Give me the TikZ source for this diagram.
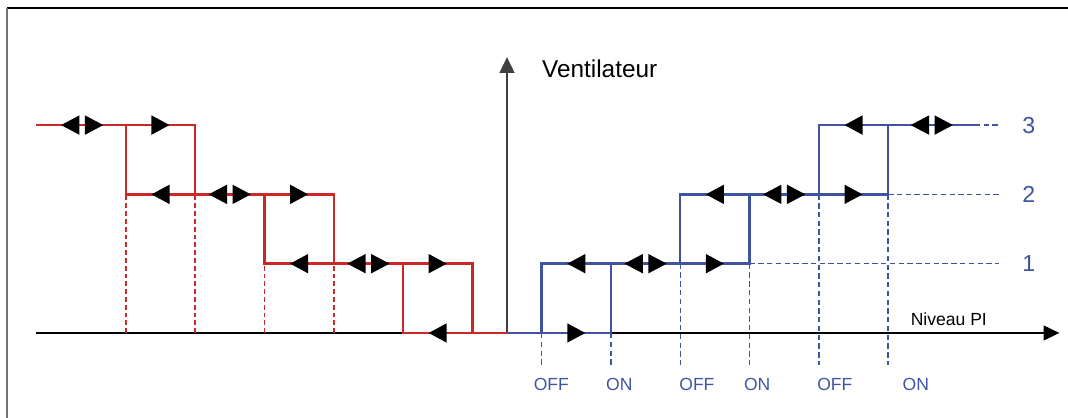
\documentclass[tikz,border=0pt]{standalone}
\usepackage{fontspec}
\setmainfont{Liberation Sans}
\usetikzlibrary{arrows.meta}

\definecolor{rougecourbe}{RGB}{205,40,40}
\definecolor{bleucourbe}{RGB}{62,84,162}

\tikzset{
  courbeR/.style={draw=rougecourbe, line width=1pt},
  courbeB/.style={draw=bleucourbe, line width=1pt},
  tiretR/.style={draw=rougecourbe, line width=0.7pt, dash pattern=on 2pt off 1.2pt},
  tiretB/.style={draw=bleucourbe, line width=0.6pt, dash pattern=on 2.2pt off 1.4pt},
  axe/.style={line width=0.45pt, -{Triangle[length=6.5pt,width=6.2pt]}},
  etiquette/.style={text=bleucourbe, inner sep=0pt, font=\fontsize{7.2}{8}\selectfont},
  vitesse/.style={text=bleucourbe, inner sep=0pt, font=\fontsize{9.5}{11}\selectfont}
}

\begin{document}
\begin{tikzpicture}[x=1cm, y=1cm]

\useasboundingbox (-7.316,-1.2266) rectangle (8.095,4.805);

% Cadre
\draw[line width=0.7pt] (-7.21,4.69) -- (8.095,4.69);
\draw[line width=0.8pt, black!55] (-7.21,4.69) -- (-7.21,-1.2266);

% Fleches
\def\flecheD#1#2{\fill (#1-0.13,#2+0.14) -- (#1+0.13,#2) -- (#1-0.13,#2-0.14) -- cycle;}
\def\flecheG#1#2{\fill (#1+0.13,#2+0.14) -- (#1-0.13,#2) -- (#1+0.13,#2-0.14) -- cycle;}
\def\flecheDouble#1#2{
  \fill (#1-0.04,#2+0.14) -- (#1-0.305,#2) -- (#1-0.04,#2-0.14) -- cycle;
  \fill (#1+0.04,#2+0.14) -- (#1+0.305,#2) -- (#1+0.04,#2-0.14) -- cycle;
}

% Axes
\draw[axe] (-6.8,0) -- (7.97,0);
\draw[axe, black!75] (0,0) -- (0,3.98);

% Pointilles rouges
\foreach \x in {-5.5,-4.5} {
    \draw[tiretR] (\x,0) -- (\x,2);
}
\foreach \x in {-3.5,-2.5} {
    \draw[tiretR] (\x,0) -- (\x,1);
}

% Pointilles bleus
\foreach \x/\y in {0.5/0,1.5/0,2.5/1,3.5/1,4.5/2,5.5/2} {
    \draw[tiretB] (\x,\y) -- (\x,-0.46);
}
\draw[tiretB] (3.5,1) -- (7.1,1);
\draw[tiretB] (5.5,2) -- (7.1,2);
\draw[tiretB] (6.75,3) -- (7.1,3);

% Courbe rouge
\draw[courbeR] (-6.8,3) -- (-4.5,3) -- (-4.5,2);
\draw[courbeR] (-5.5,3) -- (-5.5,2) -- (-2.5,2) -- (-2.5,1);
\draw[courbeR] (-3.5,2) -- (-3.5,1) -- (-0.5,1) -- (-0.5,0);
\draw[courbeR] (-1.5,1) -- (-1.5,0) -- (0,0);

% Courbe bleue
\draw[courbeB] (0,0) -- (1.5,0) -- (1.5,1);
\draw[courbeB] (0.5,0) -- (0.5,1) -- (3.5,1) -- (3.5,2);
\draw[courbeB] (2.5,1) -- (2.5,2) -- (5.5,2) -- (5.5,3);
\draw[courbeB] (4.5,2) -- (4.5,3) -- (6.75,3);

% Triangles
\flecheDouble{-6.13}{3}
\flecheD{-5}{3}
\flecheG{-5}{2}
\flecheDouble{-4}{2}
\flecheD{-3}{2}
\flecheG{-3}{1}
\flecheDouble{-2}{1}
\flecheD{-1}{1}
\flecheG{-1}{0}

\flecheD{1}{0}
\flecheG{1}{1}
\flecheDouble{2}{1}
\flecheD{3}{1}
\flecheG{3}{2}
\flecheDouble{4}{2}
\flecheD{5}{2}
\flecheG{5}{3}
\flecheDouble{6.13}{3}

% Textes
\node[anchor=base west, inner sep=0pt, font=\fontsize{10}{12}\selectfont] (ventilateur) at (0.5,3.69) {Ventilateur};
\node[anchor=base west, inner sep=0pt, font=\fontsize{7.2}{8}\selectfont] (niveau) at (5.82,0.115) {Niveau PI};

\foreach \k in {1,2,3} {
    \node[vitesse] (vitesse\k) at (7.53,\k) {\k};
}

\node[etiquette] (off1) at (0.64,-0.743) {OFF};
\node[etiquette] (on1) at (1.62,-0.743) {ON};
\node[etiquette] (off2) at (2.74,-0.743) {OFF};
\node[etiquette] (on2) at (3.61,-0.743) {ON};
\node[etiquette] (off3) at (4.73,-0.743) {OFF};
\node[etiquette] (on3) at (5.90,-0.743) {ON};

\end{tikzpicture}
\end{document}
